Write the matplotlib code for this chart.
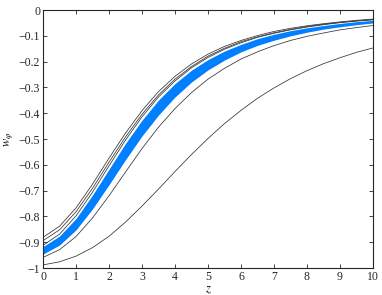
import numpy as np
import matplotlib.pyplot as plt

plt.rcParams['font.family'] = ['Liberation Serif', 'DejaVu Serif']
plt.rcParams['mathtext.fontset'] = 'stix'

# values at z = 0, 0.5, ..., 10
z = np.arange(0, 10.01, 0.5)
w_a = [-0.881, -0.838, -0.767, -0.675, -0.574, -0.477, -0.390, -0.316, -0.257, -0.209, -0.171,
       -0.141, -0.118, -0.099, -0.083, -0.071, -0.061, -0.053, -0.046, -0.040, -0.035]
w_b = [-0.894, -0.852, -0.782, -0.691, -0.590, -0.492, -0.404, -0.329, -0.268, -0.219, -0.179,
       -0.148, -0.123, -0.104, -0.088, -0.075, -0.064, -0.055, -0.048, -0.042, -0.037]
w_c = [-0.912, -0.869, -0.798, -0.706, -0.604, -0.504, -0.414, -0.337, -0.275, -0.224, -0.184,
       -0.152, -0.127, -0.106, -0.090, -0.077, -0.066, -0.057, -0.049, -0.043, -0.038]
band_top = [-0.917, -0.876, -0.808, -0.717, -0.617, -0.517, -0.427, -0.349, -0.285, -0.233, -0.192,
            -0.159, -0.133, -0.111, -0.094, -0.080, -0.069, -0.060, -0.052, -0.045, -0.040]
band_bot = [-0.946, -0.911, -0.852, -0.771, -0.677, -0.580, -0.488, -0.407, -0.337, -0.279, -0.232,
            -0.194, -0.162, -0.137, -0.117, -0.100, -0.086, -0.074, -0.065, -0.057, -0.050]
w_d = [-0.959, -0.929, -0.878, -0.806, -0.720, -0.628, -0.537, -0.454, -0.382, -0.320, -0.268,
       -0.226, -0.190, -0.162, -0.138, -0.118, -0.102, -0.089, -0.077, -0.068, -0.060]
w_e = [-0.988, -0.976, -0.954, -0.921, -0.877, -0.822, -0.760, -0.694, -0.626, -0.560, -0.498,
       -0.440, -0.389, -0.342, -0.302, -0.266, -0.235, -0.208, -0.185, -0.164, -0.147]

fig = plt.figure(figsize=(3.82, 2.95), dpi=100)
ax = fig.add_axes([0.1126, 0.0915, 0.8638, 0.8745])

ax.fill_between(z, band_bot, band_top, color='#0080ff', lw=0)
for w in (w_a, w_b, w_c, w_d, w_e):
    ax.plot(z, w, color='#333333', lw=0.55)

ax.set_xlim(0, 10)
ax.set_ylim(-1, 0)
ax.set_xticks(range(11))
ax.set_yticks(np.arange(-1, 0.01, 0.1))
ax.set_yticklabels(['\u22121'] + ['\u22120.%d' % i for i in range(9, 0, -1)] + ['0'])
ax.tick_params(direction='in', length=3, width=0.6, top=True, right=True,
               labelsize=8.5, pad=2, colors='#262626')
for s in ax.spines.values():
    s.set_linewidth(0.8)
    s.set_color('#262626')

ax.set_xlabel('$z$', fontsize=9, labelpad=1)
ax.set_ylabel(r'$w_{\varphi}$', fontsize=9, labelpad=2)

fig.savefig('out.png')
